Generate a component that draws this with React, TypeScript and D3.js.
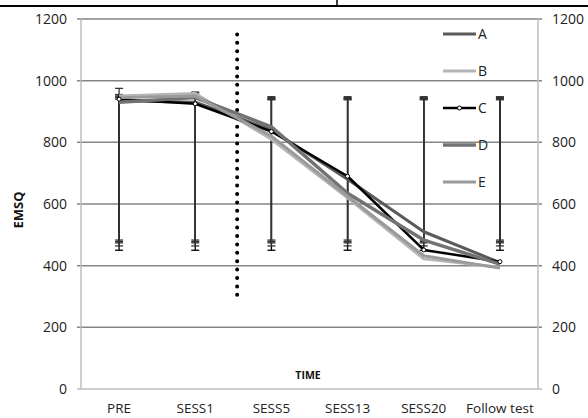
import React from "react";
import * as d3 from "d3";

const categories = ["PRE", "SESS1", "SESS5", "SESS13", "SESS20", "Follow test"];
const seriesNames = ["A", "B", "C", "D", "E"];
const seriesA = [935, 930, 840, 680, 510, 410];
const seriesB = [950, 958, 810, 620, 422, 395];
const seriesC = [940, 925, 835, 690, 451, 413];
const seriesD = [930, 945, 850, 635, 483, 405];
const seriesE = [945, 950, 820, 625, 432, 392];
const errHighA = [955, 960, 945, 945, 945, 945];
const errHighB = [975, 963, 948, 948, 948, 948];
const errHighC = [950, 955, 940, 940, 940, 940];
const errHighD = [945, 950, 942, 942, 942, 942];
const errHighE = [940, 945, 938, 938, 938, 938];
const errLowA = [483, 483, 483, 483, 483, 483];
const errLowB = [474, 474, 474, 474, 474, 474];
const errLowC = [450, 450, 450, 450, 450, 450];
const errLowD = [478, 478, 478, 478, 478, 478];
const errLowE = [464, 464, 464, 464, 464, 464];
const yTicks = [0, 200, 400, 600, 800, 1000, 1200];
const dividerPos = 1.55; // category index position of dotted line
const dividerRange = [285, 1150];

const W = 588, H = 418;
const plot = { left: 81, right: 538, top: 19, bottom: 389 };

const series = [
  { name: "A", values: seriesA, hi: errHighA, lo: errLowA, color: "#5a5a5a", width: 3 },
  { name: "B", values: seriesB, hi: errHighB, lo: errLowB, color: "#b5b5b5", width: 3 },
  { name: "C", values: seriesC, hi: errHighC, lo: errLowC, color: "#000000", width: 2.5, marker: true },
  { name: "D", values: seriesD, hi: errHighD, lo: errLowD, color: "#727272", width: 3.5 },
  { name: "E", values: seriesE, hi: errHighE, lo: errLowE, color: "#9a9a9a", width: 3 },
];

export default function App() {
  const x = d3.scaleBand<string>().domain(categories).range([plot.left, plot.right]);
  const y = d3.scaleLinear().domain([0, 1200]).range([plot.bottom, plot.top]);
  const cx = (c: string) => (x(c) as number) + x.bandwidth() / 2;
  const xi = (i: number) => plot.left + x.bandwidth() * (i + 0.5);
  const line = d3
    .line<number>()
    .x((_, i) => cx(categories[i]))
    .y((d) => y(d));
  const font = "'Open Sans', 'Liberation Sans', sans-serif";
  const dx = xi(dividerPos);

  return (
    <svg width={W} height={H} style={{ position: "absolute", left: 0, top: 0, background: "#fff" }} fontFamily={font}>
      <rect x={0} y={0} width={W} height={H} fill="#fff" />
      {/* top table border */}
      <line x1={0} x2={W} y1={6} y2={6} stroke="#000" strokeWidth={2} />
      <line x1={337} x2={337} y1={0} y2={6} stroke="#000" strokeWidth={1.5} />
      {/* gridlines */}
      {yTicks.filter((t) => t > 0).map((t) => (
        <line key={t} x1={plot.left - 4} x2={plot.right + 4} y1={y(t)} y2={y(t)} stroke="#858585" strokeWidth={1.5} />
      ))}
      {/* axes */}
      <line x1={plot.left} x2={plot.left} y1={plot.top} y2={plot.bottom} stroke="#bdbdbd" strokeWidth={1.5} />
      <line x1={plot.right} x2={plot.right} y1={plot.top} y2={plot.bottom} stroke="#bdbdbd" strokeWidth={1.5} />
      <line x1={plot.left - 4} x2={plot.right + 4} y1={plot.bottom} y2={plot.bottom} stroke="#bdbdbd" strokeWidth={1.5} />
      {/* tick labels */}
      {yTicks.map((t) => (
        <g key={t}>
          <text x={67} y={y(t)} dy="0.35em" textAnchor="end" fontSize={14} fill="#222">{t}</text>
          <text x={552} y={y(t)} dy="0.35em" textAnchor="start" fontSize={14} fill="#222">{t}</text>
        </g>
      ))}
      {categories.map((c) => (
        <text key={c} x={cx(c)} y={413} textAnchor="middle" fontSize={13.5} fill="#222">{c}</text>
      ))}
      <text x={308} y={379} textAnchor="middle" fontSize={10.5} fontWeight="bold" fill="#111">TIME</text>
      <text transform={`translate(23,${210}) rotate(-90)`} textAnchor="middle" fontSize={13} fontWeight="bold" fill="#111">EMSQ</text>
      {/* error bars */}
      {series.map((s) => (
        <g key={"e" + s.name} stroke={s.name === "C" ? "#000" : "#333"} strokeWidth={1.3}>
          {categories.map((c, i) => (
            <g key={c}>
              <line x1={cx(c)} x2={cx(c)} y1={y(s.hi[i])} y2={y(s.lo[i])} />
              <line x1={cx(c) - 4} x2={cx(c) + 4} y1={y(s.hi[i])} y2={y(s.hi[i])} />
              <line x1={cx(c) - 4} x2={cx(c) + 4} y1={y(s.lo[i])} y2={y(s.lo[i])} />
            </g>
          ))}
        </g>
      ))}
      {/* dotted divider */}
      <line x1={dx} x2={dx} y1={y(dividerRange[1])} y2={y(dividerRange[0])} stroke="#000" strokeWidth={4} strokeLinecap="round" strokeDasharray="0 8.4" />
      {/* series lines */}
      {series.map((s) => (
        <path key={s.name} d={line(s.values) || ""} fill="none" stroke={s.color} strokeWidth={s.width} strokeLinejoin="round" />
      ))}
      {series.filter((s) => s.marker).map((s) =>
        s.values.map((v, i) => (
          <circle key={s.name + i} cx={cx(categories[i])} cy={y(v)} r={2} fill="#fff" stroke="#000" strokeWidth={1} />
        ))
      )}
      {/* legend */}
      {series.map((s, i) => {
        const ly = 34 + i * 37;
        return (
          <g key={"l" + s.name}>
            <line x1={443} x2={476} y1={ly} y2={ly} stroke={s.color} strokeWidth={s.width} />
            {s.marker && <circle cx={459.5} cy={ly} r={2} fill="#fff" stroke="#000" strokeWidth={1} />}
            <text x={478} y={ly} dy="0.36em" fontSize={14} fill="#222">{seriesNames[i]}</text>
          </g>
        );
      })}
    </svg>
  );
}
